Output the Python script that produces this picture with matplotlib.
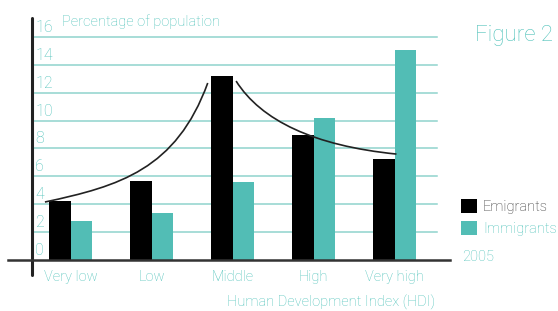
import matplotlib
matplotlib.use('Agg')
import matplotlib.pyplot as plt
from matplotlib.path import Path
from matplotlib.patches import PathPatch

# data (percentage of population, 2005)
categories = ['Very low', 'Low', 'Middle', 'High', 'Very high']
emigrants = [4.2, 5.7, 13.2, 9.0, 7.25]
immigrants = [2.8, 3.4, 5.6, 10.2, 15.1]
yticks = [0, 2, 4, 6, 8, 10, 12, 14, 16]
# hand-drawn trend curves (bezier control points, data units)
curve_low = [(-0.32, 4.16), (0.6, 5.3), (1.3, 6.5), (1.69, 12.7)]
curve_high = [(2.04, 12.84), (2.35, 10.0), (3.0, 8.2), (4.02, 7.6)]

TEAL = '#52bdb5'
TEXT = '#4fc2ba'
GRID = '#8fd3cd'
plt.rcParams['font.family'] = ['Roboto', 'DejaVu Sans']
plt.rcParams['font.weight'] = 'light'

fig = plt.figure(figsize=(5.58, 3.11), dpi=100)
ax = fig.add_axes([0.0573, 0.164, 0.749, 0.778])
x = list(range(len(categories)))
w = 0.265
ax.bar([i - w / 2 for i in x], emigrants, w, color='black', label='Emigrants')
ax.bar([i + w / 2 for i in x], immigrants, w, color=TEAL, label='Immigrants')
ax.set_xlim(-0.48, 4.68)
ax.set_ylim(0, 17.36)

for v in yticks[1:]:
    ax.axhline(v, xmin=0, xmax=0.97, color=GRID, lw=1.1, zorder=0)
for v in yticks:
    ax.text(0.008, v + 0.15, str(v), transform=ax.get_yaxis_transform(),
            ha='left', va='bottom', color=TEXT, fontsize=11.5)

for pts in (curve_low, curve_high):
    path = Path(pts, [Path.MOVETO, Path.CURVE4, Path.CURVE4, Path.CURVE4])
    ax.add_patch(PathPatch(path, fill=False, color='#222222', lw=1.2, zorder=3))

for s in ax.spines.values():
    s.set_visible(False)
ax.plot([0, 0], [-0.06, 1.0], transform=ax.transAxes, color='#222222', lw=2.2,
        clip_on=False, solid_capstyle='round')
ax.plot([-0.057, 1.0], [0, 0], transform=ax.transAxes, color='#333333', lw=1.8,
        clip_on=False)
ax.set_yticks([])
ax.set_xticks(x, categories)
ax.tick_params(axis='x', length=0, pad=7, labelsize=10.5, labelcolor=TEXT)

fig.text(0.111, 0.929, 'Percentage of population', color=TEXT, fontsize=10.5, va='center')
fig.text(0.593, 0.029, 'Human Development Index (HDI)', color=TEXT, fontsize=10.5,
         ha='center', va='center')
fig.text(0.852, 0.887, 'Figure 2', color=TEXT, fontsize=16, va='center')

leg = fig.legend(loc='upper left', bbox_to_anchor=(0.826, 0.36), frameon=False,
                 fontsize=10.5, handlelength=1.1, handleheight=1.1, handletextpad=0.4,
                 labelspacing=0.5, borderpad=0, borderaxespad=0)
leg.get_texts()[0].set_color('#333333')
leg.get_texts()[1].set_color(TEXT)
fig.text(0.828, 0.174, '2005', color=TEXT, fontsize=10.5, va='center')

fig.savefig('out.png', dpi=100)
